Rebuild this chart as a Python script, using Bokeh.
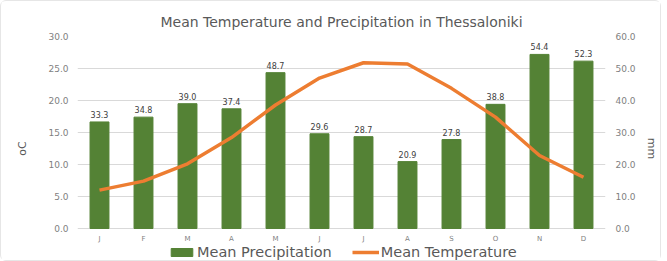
from bokeh.plotting import figure
from bokeh.models import (Range1d, LinearAxis, FixedTicker, NumeralTickFormatter,
                          Legend, LegendItem, ColumnDataSource)
from bokeh.embed import file_html
from bokeh.resources import INLINE

months = ["J", "F", "M", "A", "M", "J", "J", "A", "S", "O", "N", "D"]
precip = [33.3, 34.8, 39.0, 37.4, 48.7, 29.6, 28.7, 20.9, 27.8, 38.8, 54.4, 52.3]
temp = [6.0, 7.4, 10.1, 14.2, 19.3, 23.5, 25.9, 25.7, 21.9, 17.4, 11.4, 8.0]
temp_ticks = [0, 5, 10, 15, 20, 25, 30]
precip_ticks = [0, 10, 20, 30, 40, 50, 60]

x = list(range(1, 13))
src = ColumnDataSource(dict(x=x, precip=precip, temp=temp, month=months,
                            base=[0] * len(x),
                            lab=[f"{v:.1f}" for v in precip]))

GREEN = "#548235"
ORANGE = "#ED7D31"
GRID = "#D9D9D9"
TICK = "#7F7F7F"
FONT = "DejaVu Sans"

# frame extends below the zero line to host the legend; 6.4 px per degree
p = figure(frame_width=528, frame_height=224, output_backend="svg", toolbar_location=None,
           x_axis_location=None,
           x_range=Range1d(0.5, 12.5), y_range=Range1d(-5, 30),
           min_border_left=76, min_border_right=54, min_border_top=35, min_border_bottom=0)
p.extra_y_ranges = {"mm": Range1d(-10, 60)}

p.title.text = "Mean Temperature and Precipitation in Thessaloniki"
p.title.align = "center"
p.title.text_font = FONT
p.title.text_font_size = "14px"
p.title.text_font_style = "normal"
p.title.text_color = "#595959"
p.title.standoff = 14

p.outline_line_color = None
p.background_fill_color = "white"
p.border_fill_color = "white"
p.styles = {"border": "1px solid #E6E6E6", "border-radius": "6px"}

bars = p.vbar(x="x", top="precip", bottom="base", width=0.43, source=src, color=GREEN,
              y_range_name="mm")
line = p.line(x="x", y="temp", source=src, line_color=ORANGE, line_width=3.5)
p.text(x="x", y="precip", text="lab", source=src, y_range_name="mm",
       text_align="center", text_baseline="bottom", y_offset=-4,
       text_font_size="8px", text_color="#404040", text_font={"value": FONT})
# month labels under the zero line
p.text(x="x", y="base", text="month", source=src,
       text_align="center", text_baseline="top", y_offset=6,
       text_font_size="7px", text_color=TICK, text_font={"value": FONT})

p.xgrid.grid_line_color = None
p.ygrid.grid_line_color = GRID
p.ygrid.ticker = FixedTicker(ticks=temp_ticks)

ya = p.yaxis[0]
ya.ticker = FixedTicker(ticks=temp_ticks)
ya.formatter = NumeralTickFormatter(format="0.0")
ya.axis_line_color = None
ya.major_tick_line_color = None
ya.minor_tick_line_color = None
ya.major_tick_out = 0
ya.minor_tick_out = 0
ya.major_label_text_font_size = "9px"
ya.major_label_text_color = TICK
ya.major_label_text_font = FONT
ya.major_label_standoff = 9
ya.axis_label = "oC"
ya.axis_label_text_font = FONT
ya.axis_label_text_font_size = "11px"
ya.axis_label_text_font_style = "normal"
ya.axis_label_text_color = "#595959"
ya.axis_label_standoff = 16

ra = LinearAxis(y_range_name="mm", ticker=FixedTicker(ticks=precip_ticks),
                formatter=NumeralTickFormatter(format="0.0"))
ra.axis_line_color = None
ra.major_tick_line_color = None
ra.minor_tick_line_color = None
ra.major_tick_out = 0
ra.minor_tick_out = 0
ra.major_label_text_font_size = "9px"
ra.major_label_text_color = TICK
ra.major_label_text_font = FONT
ra.major_label_standoff = 10
ra.axis_label = "mm"
ra.axis_label_text_font = FONT
ra.axis_label_text_font_size = "11px"
ra.axis_label_text_font_style = "normal"
ra.axis_label_text_color = "#595959"
ra.axis_label_standoff = 6
p.add_layout(ra, "right")

legend = Legend(items=[LegendItem(label="Mean Precipitation", renderers=[bars]),
                       LegendItem(label="Mean Temperature", renderers=[line])],
                orientation="horizontal", location=(91, 0),
                label_text_font=FONT, label_text_font_size="14.5px", label_text_color="#595959",
                label_height=14, glyph_width=27, glyph_height=10, spacing=20,
                padding=0, margin=0,
                label_standoff=2, border_line_color=None, background_fill_alpha=0)
p.add_layout(legend)

open("out.html", "w").write(file_html(p, INLINE))
